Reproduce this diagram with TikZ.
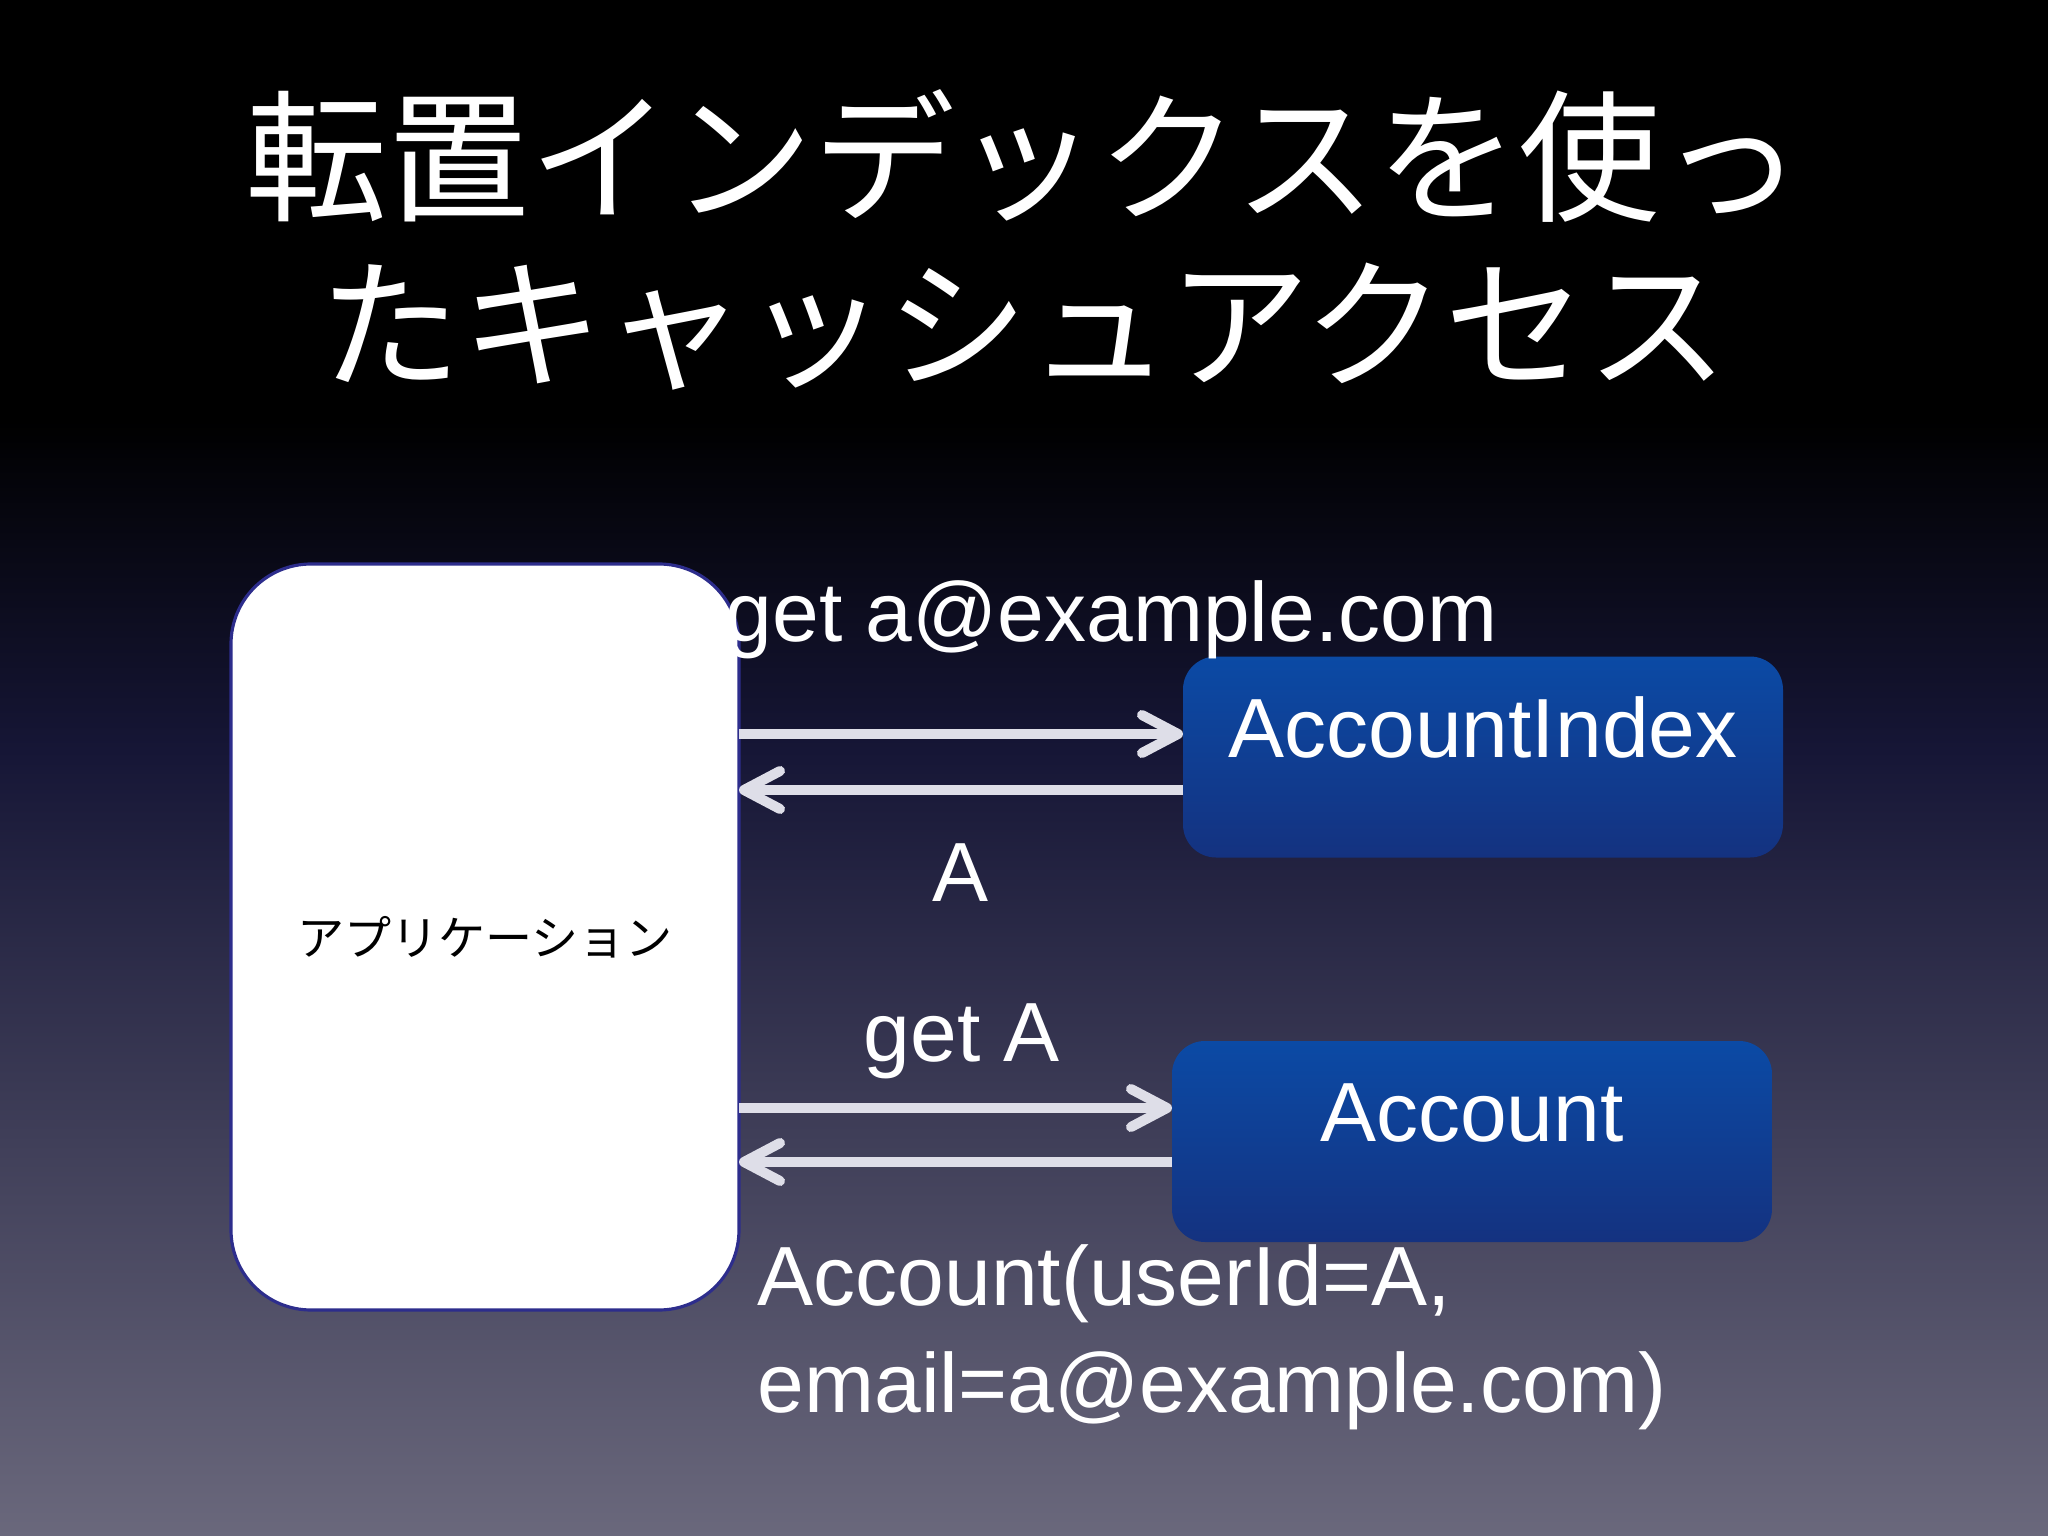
\documentclass[tikz,border=0pt]{standalone}
\usepackage{fontspec}
\setmainfont{Liberation Sans}
\newfontfamily\jpfont{Noto Sans CJK JP}
\usepackage{xcolor}
\usepackage{tikz}
\usepackage{tkz-graph}
\usetikzlibrary{arrows,arrows.meta,calc}
\definecolor{bgmid}{RGB}{22,22,54}
\definecolor{bgbottom}{RGB}{106,104,124}
\definecolor{appline}{RGB}{45,45,140}
\definecolor{boxtop}{RGB}{11,74,165}
\definecolor{boxbottom}{RGB}{20,50,128}
\definecolor{arrowgray}{RGB}{222,222,232}

\begin{document}
\begin{tikzpicture}
\useasboundingbox (0,0) rectangle (20.48,-15.36);
\fill[black] (0,0) rectangle (20.48,-4.2);
\shade[top color=black, bottom color=bgmid] (0,-4.2) rectangle (20.48,-7.5);
\shade[top color=bgmid, bottom color=bgbottom] (0,-7.5) rectangle (20.48,-15.36);
\tikzset{txt/.style={text=white, inner sep=0pt, font=\fontsize{23.9}{30.3}\selectfont},
  msg/.style={draw=arrowgray, line width=2.85pt, -{Straight Barb[length=3.6mm,width=3.8mm,line cap=round,line join=round]}}}
\node[text=white, align=center, font=\jpfont\fontsize{40.4}{47.5}\selectfont] (title) at (10.24,-2.40) {転置インデックスを使っ\\たキャッシュアクセス};
\GraphInit[vstyle=Normal]
\tikzset{VertexStyle/.style={draw=appline, fill=white, line width=0.9pt, rounded corners=0.8cm, minimum width=5.08cm, minimum height=7.46cm, text=black, font=\jpfont\fontsize{13.4}{16}\selectfont}}
\Vertex[x=4.85,y=-9.37,L={アプリケーション}]{app}
\tikzset{VertexStyle/.style={top color=boxtop, bottom color=boxbottom, rounded corners=0.33cm, minimum width=6cm, minimum height=2.01cm, text height=0.6cm, text depth=0.6cm, text=white, font=\fontsize{23.9}{28}\selectfont}}
\Vertex[x=14.83,y=-7.57,L={AccountIndex}]{idx}
\Vertex[x=14.72,y=-11.415,L={Account}]{acc}
\draw[msg] ($(app.east|-idx.west)+(0,0.23)$) -- ($(idx.west)+(0,0.23)$);
\draw[msg] ($(idx.west)+(0,-0.33)$) -- ($(app.east|-idx.west)+(0,-0.33)$);
\draw[msg] ($(app.east|-acc.west)+(0,0.335)$) -- ($(acc.west)+(0,0.335)$);
\draw[msg] ($(acc.west)+(0,-0.205)$) -- ($(app.east|-acc.west)+(0,-0.205)$);
\node[txt, anchor=base west] (ask1) at (7.25,-6.42) {get a@example.com};
\node[txt, anchor=base] (ans1) at (9.61,-9.01) {A};
\node[txt, anchor=base] (ask2) at (9.62,-10.61) {get A};
\node[txt, anchor=base west, align=left] (ans2) at (7.57,-14.12) {Account(userId=A,\\email=a@example.com)};
\end{tikzpicture}
\end{document}
